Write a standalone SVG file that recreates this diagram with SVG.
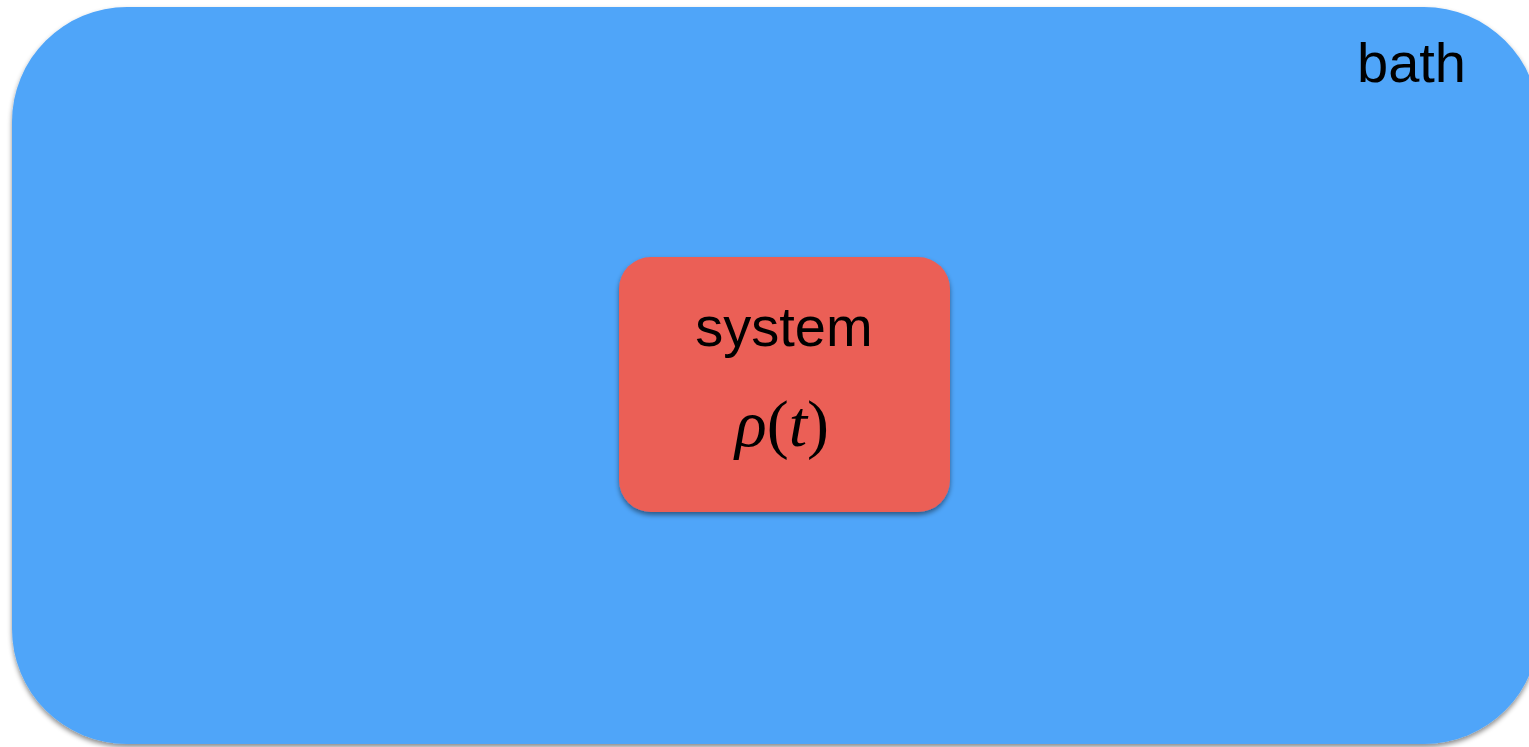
<svg xmlns="http://www.w3.org/2000/svg" width="1529" height="747" viewBox="0 0 1529 747">
<defs>
<filter id="sh" x="-5%" y="-5%" width="110%" height="115%">
<feDropShadow dx="0" dy="3" stdDeviation="2.5" flood-color="#000" flood-opacity="0.45"/>
</filter>
<style>
.lbl{font-family:"Liberation Sans",Arial,sans-serif;font-size:56px;fill:#000}
.math{font-family:"Liberation Serif","Times New Roman",serif;font-size:66px;fill:#000}
</style>
</defs>
<rect width="1529" height="747" fill="#fff"/>
<g id="bath">
<rect x="12" y="7" width="1527" height="737" rx="115" ry="115" fill="#50A5F9" filter="url(#sh)"/>
<text class="lbl" x="1466" y="82" text-anchor="end">bath</text>
</g>
<g id="system">
<rect x="619" y="257" width="331" height="255" rx="32" ry="32" fill="#EB5E57" filter="url(#sh)"/>
<text class="lbl" x="784" y="346" text-anchor="middle">system</text>
<text class="math" x="782" y="446" text-anchor="middle"><tspan font-style="italic">ρ</tspan><tspan>(</tspan><tspan font-style="italic">t</tspan><tspan>)</tspan></text>
</g>
<g id="connectors"/>
</svg>
